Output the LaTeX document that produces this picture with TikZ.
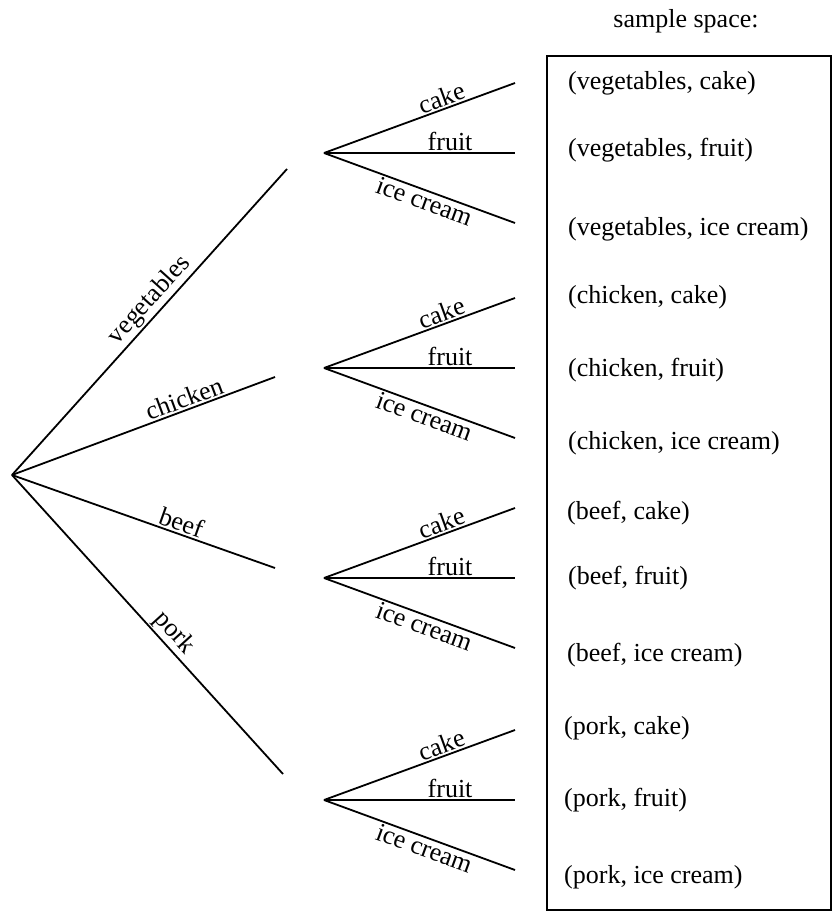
\documentclass[tikz,border=0pt]{standalone}
\usepackage{fontspec}
\setmainfont{Liberation Serif}
\begin{document}
\begin{tikzpicture}[x=1pt,y=-1pt,
  br/.style={line width=1.8pt},
  lab/.style={font=\fontsize{26}{30}\selectfont, sloped, inner sep=1.5pt},
  item/.style={font=\fontsize{26}{30}\selectfont, anchor=west, inner sep=0pt}]
\useasboundingbox (0,0) rectangle (833,915);
% first level
\coordinate (r) at (12,475);
\coordinate (v) at (287,169);
\coordinate (c) at (275,377);
\coordinate (b) at (275,568);
\coordinate (p) at (283,774);
\draw[br] (r) -- node[lab, above, pos=0.54]{vegetables} (v);
\draw[br] (r) -- node[lab, above, pos=0.67]{chicken} (c);
\draw[br] (r) -- node[lab, above, pos=0.63]{beef} (b);
\draw[br] (r) -- node[lab, above, pos=0.56]{pork} (p);
% second level
\foreach \n/\y in {v/153, c/368, b/578, p/800} {
  \coordinate (\n0) at (324,\y);
  \coordinate (\n1) at (515,{\y-70});
  \coordinate (\n2) at (515,\y);
  \coordinate (\n3) at (515,{\y+70});
  \draw[br] (\n0) -- node[lab, above, pos=0.635]{cake} (\n1);
  \draw[br] (\n0) -- node[lab, above, pos=0.66]{fruit} (\n2);
  \draw[br] (\n0) -- node[lab, below, pos=0.545]{ice cream} (\n3);
}
% sample space
\node[font=\fontsize{26}{30}\selectfont, inner sep=0pt] (ss) at (686,21) {sample space:};
\coordinate (bx1) at (547,56);
\coordinate (bx2) at (831,910);
\draw[line width=1.8pt] (bx1) rectangle (bx2);
\node[item] (e1) at (568,83) {(vegetables, cake)};
\node[item] (e2) at (568,150) {(vegetables, fruit)};
\node[item] (e3) at (568,229) {(vegetables, ice cream)};
\node[item] (e4) at (568,297) {(chicken, cake)};
\node[item] (e5) at (568,370) {(chicken, fruit)};
\node[item] (e6) at (568,443) {(chicken, ice cream)};
\node[item] (e7) at (567,513) {(beef, cake)};
\node[item] (e8) at (568,578) {(beef, fruit)};
\node[item] (e9) at (567,655) {(beef, ice cream)};
\node[item] (e10) at (564,728) {(pork, cake)};
\node[item] (e11) at (564,800) {(pork, fruit)};
\node[item] (e12) at (564,877) {(pork, ice cream)};
\end{tikzpicture}
\end{document}
